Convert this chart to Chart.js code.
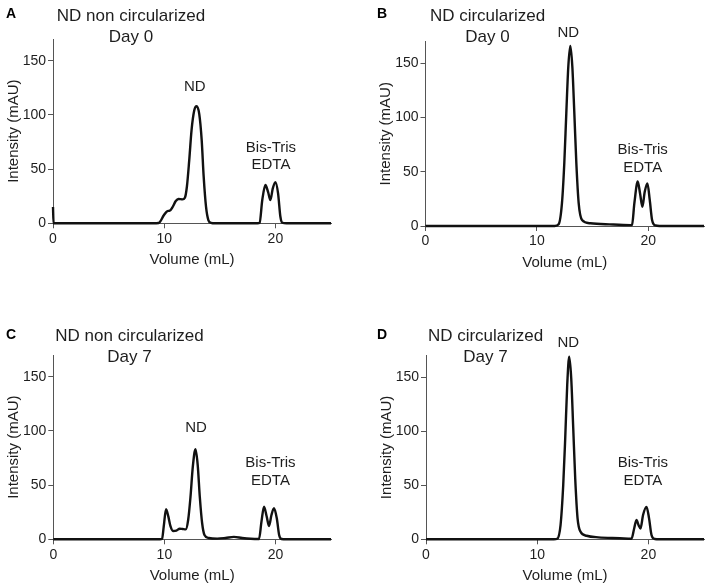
<!DOCTYPE html>
<html><head><meta charset="utf-8">
<script src="https://cdn.jsdelivr.net/npm/chart.js@4.4.1/dist/chart.umd.min.js"></script>
<style>
html,body{margin:0;padding:0;background:#fff;}
#wrap{position:relative;width:709px;height:588px;overflow:hidden;}
canvas{position:absolute;left:0;top:0;}
</style></head><body><div id="wrap">
<canvas id="cA" width="709" height="588"></canvas>
<canvas id="cB" width="709" height="588"></canvas>
<canvas id="cC" width="709" height="588"></canvas>
<canvas id="cD" width="709" height="588"></canvas>
</div>
<script>
// ---- Data (Volume mL / Intensity mAU) ----
const volA = [0, 0.05, 5, 9.0, 9.5, 9.98, 10.29, 10.5, 10.74, 11.04, 11.28, 11.64, 11.86, 12.04, 12.25, 12.46, 12.7, 12.91, 13.15, 13.37, 13.55, 13.76, 13.97, 14.2, 14.6, 18.4, 18.58, 18.82, 19.1, 19.34, 19.55, 19.76, 20.0, 20.24, 20.45, 20.63, 21, 25];
const mauA = [15, 0, 0, 0, 0.3, 7.6, 11.3, 11.6, 14.7, 20.5, 22.4, 22.1, 23.6, 33.7, 58, 86, 104, 108, 101, 77, 43, 15.3, 3, 0.5, 0, 0, 0.5, 21.5, 35.3, 29, 21.5, 32, 38, 27.6, 6, 0.5, 0, 0];

const volB = [0, 11.6, 11.95, 12.25, 12.46, 12.64, 12.82, 13.0, 13.18, 13.36, 13.54, 13.75, 14.05, 14.8, 16.5, 18.4, 18.54, 18.75, 19.05, 19.26, 19.47, 19.68, 19.92, 20.13, 20.34, 20.64, 21, 25];
const mauB = [0, 0, 1.5, 21, 58, 104, 147, 166, 147, 104, 58, 21, 5.5, 2.5, 1.5, 0.8, 1, 21, 41, 30, 17.8, 31.6, 39.3, 24, 5.5, 0.5, 0, 0];

const volC = [0, 9.6, 9.79, 9.94, 10.15, 10.36, 10.54, 10.78, 11.08, 11.38, 11.65, 11.92, 12.14, 12.35, 12.56, 12.8, 13.0, 13.19, 13.4, 13.61, 14.0, 14.76, 15.5, 16.26, 17.0, 17.77, 18.52, 18.74, 18.97, 19.21, 19.42, 19.64, 19.87, 20.12, 20.33, 20.54, 21, 25];
const mauC = [0, 0, 0.3, 11.7, 27.7, 20.9, 12.3, 7.7, 8, 9.8, 9.5, 9.2, 17.8, 39, 67, 83, 68.5, 39, 14.8, 4, 1.2, 0.6, 1.2, 2.2, 1.2, 0.5, 0.3, 16.3, 30, 21, 12.3, 22.4, 28.6, 19.4, 4, 0.3, 0, 0];

const volD = [0, 11.5, 11.8, 12.1, 12.34, 12.52, 12.7, 12.88, 13.06, 13.24, 13.42, 13.63, 13.9, 14.44, 15.5, 17.43, 18.48, 18.72, 18.93, 19.11, 19.29, 19.52, 19.83, 20.06, 20.28, 20.57, 21, 25];
const mauD = [0, 0, 0.5, 13.2, 50, 93.5, 143, 169, 149, 103, 56, 19.4, 7, 3.3, 1.8, 1, 0.5, 10, 17.9, 13.2, 10, 22.5, 30, 19.4, 4, 0.3, 0, 0];

// axis ticks
const xMax = 25, xStep = 10;
const yMax = 170, yStep = 50;

// panel text
const letters = ['A', 'B', 'C', 'D'];
const titleLine1 = ['ND non circularized', 'ND circularized', 'ND non circularized', 'ND circularized'];
const titleLine2 = ['Day 0', 'Day 0', 'Day 7', 'Day 7'];
const xTitle = 'Volume (mL)';
const yTitle = 'Intensity (mAU)';
// peak labels: [text, volume, intensity(baseline)]
const labelsA = [['ND', 12.75, 122], ['Bis-Tris', 19.6, 66], ['EDTA', 19.6, 50]];
const labelsB = [['ND', 12.82, 174], ['Bis-Tris', 19.5, 66.4], ['EDTA', 19.5, 50]];
const labelsC = [['ND', 12.85, 99], ['Bis-Tris', 19.55, 67], ['EDTA', 19.55, 50]];
const labelsD = [['ND', 12.8, 177.5], ['Bis-Tris', 19.5, 67], ['EDTA', 19.5, 50]];

// ---- layout ----
const W = 709, H = 588, YW = 50, XH = 40;
const FONT = '"Liberation Sans", Arial, Helvetica, sans-serif';
const TXT = '#1e1e1e', AX = '#555';
const boxes = [
  {l: 53, r: 331, t: 39, b: 223.3, tx: 131, t1: 21, t2: 42, lx: 6, ly: 18},
  {l: 425.5, r: 704, t: 41.5, b: 226, tx: 487.5, t1: 21, t2: 42, lx: 377, ly: 18},
  {l: 53.3, r: 331, t: 355, b: 539.3, tx: 129.5, t1: 340.5, t2: 361.5, lx: 6, ly: 338.5},
  {l: 426, r: 704, t: 355.6, b: 539.3, tx: 485.5, t1: 340.5, t2: 361.5, lx: 377, ly: 338.5}
];

const textPlugin = {
  id: 'panelTexts',
  afterDraw(chart, args, o) {
    const ctx = chart.ctx, ca = chart.chartArea, bx = o.box;
    const xs = chart.scales.x, ys = chart.scales.y;
    ctx.save();
    ctx.fillStyle = TXT;
    ctx.textBaseline = 'alphabetic';
    // letter
    ctx.font = 'bold 14px ' + FONT;
    ctx.textAlign = 'left';
    ctx.fillStyle = '#000';
    ctx.fillText(o.letter, bx.lx, bx.ly);
    ctx.fillStyle = TXT;
    // title
    ctx.font = '17px ' + FONT;
    ctx.textAlign = 'center';
    ctx.fillText(o.t1, bx.tx, bx.t1);
    ctx.fillText(o.t2, bx.tx, bx.t2);
    // peak labels
    ctx.font = '15px ' + FONT;
    o.labels.forEach(l => ctx.fillText(l[0], xs.getPixelForValue(l[1]), ys.getPixelForValue(l[2])));
    // axis titles
    ctx.font = '15px ' + FONT;
    ctx.fillText(xTitle, (ca.left + ca.right) / 2, ca.bottom + 41);
    ctx.translate(ca.left - 35.5, (ca.top + ca.bottom) / 2);
    ctx.rotate(-Math.PI / 2);
    ctx.fillText(yTitle, 0, 0);
    ctx.restore();
  }
};

function makePanel(id, idx, vol, mau, labels) {
  const bx = boxes[idx];
  const tickFont = {size: 14, family: FONT};
  return new Chart(document.getElementById(id), {
    type: 'line',
    data: {datasets: [{
      data: vol.map((v, i) => ({x: v, y: mau[i]})),
      borderColor: '#111', borderWidth: 2.4, pointRadius: 0,
      cubicInterpolationMode: 'monotone', fill: false, clip: false
    }]},
    options: {
      responsive: false, animation: false, events: [],
      layout: {padding: {left: bx.l - YW, top: bx.t, right: W - bx.r, bottom: H - bx.b - XH}},
      scales: {
        x: {type: 'linear', min: 0, max: xMax,
            ticks: {stepSize: xStep, includeBounds: false, color: TXT, font: tickFont, padding: 2, maxRotation: 0},
            grid: {display: true, drawOnChartArea: false, drawTicks: true, tickLength: 5, color: AX},
            border: {display: true, color: AX, width: 1},
            afterFit(s) { s.height = XH; }},
        y: {min: 0, max: yMax,
            ticks: {stepSize: yStep, includeBounds: false, color: TXT, font: tickFont, padding: 2},
            grid: {display: true, drawOnChartArea: false, drawTicks: true, tickLength: 5, color: AX},
            border: {display: true, color: AX, width: 1},
            afterFit(s) { s.width = YW; }}
      },
      plugins: {
        legend: {display: false}, tooltip: {enabled: false},
        panelTexts: {box: bx, letter: letters[idx], t1: titleLine1[idx], t2: titleLine2[idx], labels: labels}
      }
    },
    plugins: [textPlugin]
  });
}

makePanel('cA', 0, volA, mauA, labelsA);
makePanel('cB', 1, volB, mauB, labelsB);
makePanel('cC', 2, volC, mauC, labelsC);
makePanel('cD', 3, volD, mauD, labelsD);
</script>
</body></html>
